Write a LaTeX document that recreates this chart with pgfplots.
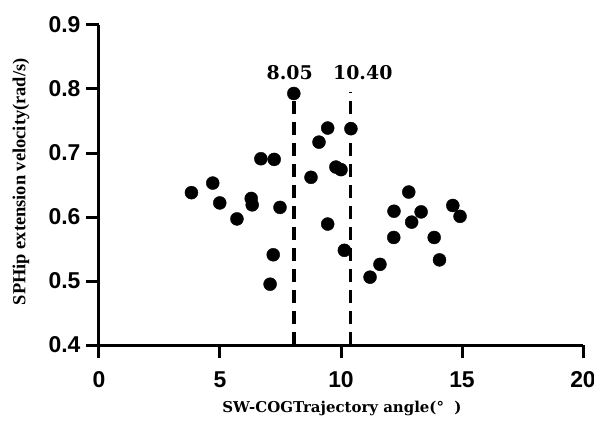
\documentclass[border=0pt]{standalone}
\usepackage{fontspec}
\usepackage{pgfplots}
\pgfplotsset{compat=1.18}
\setmainfont{Liberation Sans}
\newfontfamily\tickfont{Liberation Sans}
\newfontfamily\labfont{DejaVu Serif}
\newfontfamily\ylabfont{Liberation Serif}
\begin{document}
\begin{tikzpicture}
\begin{axis}[
  at={(0,0)}, anchor=south west,
  scale only axis, width=484bp, height=320bp,
  xmin=0, xmax=20, ymin=0.4, ymax=0.9,
  axis lines=left, axis line style={line width=3bp, -},
  xtick={0,5,10,15,20}, ytick={0.4,0.5,0.6,0.7,0.8,0.9},
  tick align=outside, major tick length=13bp,
  tick style={line width=3bp, black},
  /pgf/number format/assume math mode=true,
  /pgf/number format/fixed, /pgf/number format/fixed zerofill,
  yticklabel style={/pgf/number format/precision=1, xshift=-2bp},
  xticklabel style={/pgf/number format/precision=0, yshift=-10bp},
  ticklabel style={font=\tickfont\bfseries\fontsize{23}{23}\selectfont},
  xlabel={SW-COGTrajectory angle(°\hspace{0.7em})},
  ylabel={SPHip extension velocity(rad/s)},
  xlabel style={font=\labfont\bfseries\fontsize{15}{15}\selectfont, at={(axis description cs:0.502,-0.197)}, anchor=center},
  ylabel style={font=\ylabfont\bfseries\fontsize{18.5}{18.5}\selectfont, at={(axis description cs:-0.161,0.51)}, anchor=center},
  clip=false,
]
\addplot[black, line width=3.5bp, dash pattern=on 13bp off 8bp] coordinates {(8.05,0.4) (8.05,0.795)};
\addplot[black, line width=3.5bp, dash pattern=on 13bp off 8bp] coordinates {(10.40,0.4) (10.40,0.795)};
\addplot[only marks, mark=*, mark size=6.5bp, mark options={fill=black, draw=black}] coordinates {
(3.82,0.638) (4.70,0.653) (4.99,0.622) (5.70,0.597) (6.29,0.629) (6.33,0.619)
(6.69,0.691) (7.24,0.690) (7.48,0.615) (7.20,0.541) (7.07,0.495) (8.05,0.793)
(8.76,0.662) (9.09,0.717) (9.45,0.739) (9.79,0.678) (10.00,0.674) (9.45,0.589)
(10.41,0.738) (10.14,0.548) (11.20,0.506) (11.61,0.526) (12.18,0.568) (12.19,0.609)
(12.80,0.639) (12.92,0.592) (13.31,0.608) (13.85,0.568) (14.07,0.533) (14.62,0.618)
(14.92,0.601)};
\node[font=\labfont\bfseries\fontsize{19}{19}\selectfont] at (axis cs:7.88,0.826) {8.05};
\node[font=\labfont\bfseries\fontsize{19}{19}\selectfont] at (axis cs:10.9,0.826) {10.40};
\end{axis}
\pgfresetboundingbox
\path (-99bp,-79bp) rectangle (495bp,345bp);
\end{tikzpicture}
\end{document}
